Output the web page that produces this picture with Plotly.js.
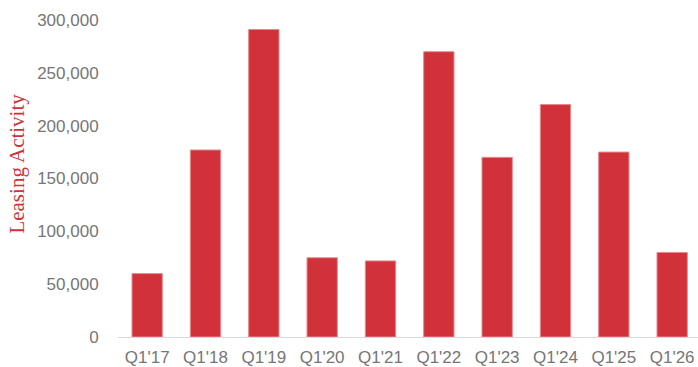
<!DOCTYPE html>
<html>
<head>
<meta charset="utf-8">
<script src="https://cdn.plot.ly/plotly-3.0.1.min.js"></script>
<style>html,body{margin:0;padding:0;background:#fff;}#chart{width:698px;height:367px;}</style>
</head>
<body>
<div id="chart"></div>
<script>
const categories = ["Q1'17","Q1'18","Q1'19","Q1'20","Q1'21","Q1'22","Q1'23","Q1'24","Q1'25","Q1'26"];
const leasingActivity = [60000, 177000, 291000, 75000, 72000, 270000, 170000, 220000, 175000, 80000];
const yTickValues = [0, 50000, 100000, 150000, 200000, 250000, 300000];
const yTickLabels = ["0", "50,000", "100,000", "150,000", "200,000", "250,000", "300,000"];
const yTitle = 'Leasing Activity';

const trace = {
  type: 'bar',
  x: categories,
  y: leasingActivity,
  marker: {color: '#d13239', line: {color: '#e48a8e', width: 1}},
  hoverinfo: 'x+y'
};

const layout = {
  width: 698, height: 367,
  margin: {l: 118, r: 0, t: 20, b: 30, pad: 0},
  paper_bgcolor: '#ffffff', plot_bgcolor: '#ffffff',
  bargap: 0.48,
  showlegend: false,
  font: {family: '"Liberation Sans", Arial, sans-serif', color: '#767676', size: 17},
  xaxis: {
    type: 'category',
    range: [-0.5, 9.443],
    showgrid: false, zeroline: false,
    showline: true, linecolor: '#d9d9d9', linewidth: 1,
    ticks: 'outside', ticklen: 5, tickcolor: 'rgba(0,0,0,0)',
    tickfont: {size: 17, color: '#767676'},
    automargin: false
  },
  yaxis: {
    range: [0, 300000],
    tickvals: yTickValues, ticktext: yTickLabels,
    showgrid: false, zeroline: false, showline: false,
    ticks: 'outside', ticklen: 15, tickcolor: 'rgba(0,0,0,0)',
    tickfont: {size: 17, color: '#767676'},
    automargin: false
  },
  annotations: [{
    text: yTitle, textangle: -90, showarrow: false,
    xref: 'paper', yref: 'paper',
    x: -101 / 580, y: 0.547, xanchor: 'center', yanchor: 'middle',
    font: {family: '"Liberation Serif", "Times New Roman", serif', size: 21, color: '#d0323a'}
  }]
};

Plotly.newPlot('chart', [trace], layout, {displayModeBar: false, staticPlot: true});
</script>
</body>
</html>
